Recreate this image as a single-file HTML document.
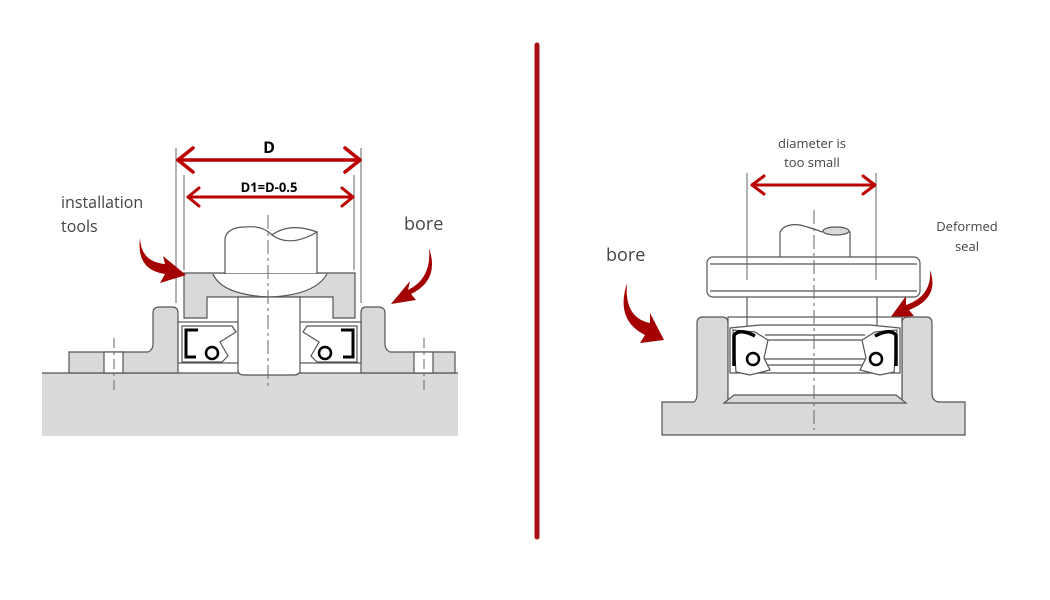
<!DOCTYPE html>
<html><head><meta charset="utf-8"><style>
html,body{margin:0;padding:0;background:#fff;}
svg{display:block;}
text{font-family:"Open Sans","Liberation Sans",sans-serif;}
</style></head><body>
<svg width="1050" height="600" viewBox="0 0 1050 600" xmlns="http://www.w3.org/2000/svg">
<rect width="1050" height="600" fill="#fff"/>
<!-- divider -->
<line x1="537" y1="45" x2="537" y2="537" stroke="#a50f15" stroke-width="5" stroke-linecap="round"/>

<!-- LEFT DRAWING -->
<g stroke="#555" stroke-width="1.2" fill="#d9d9d9">
  <rect x="42" y="373" width="416" height="63" fill="#d9dadb" stroke="none"/>
  <line x1="42" y1="373" x2="458" y2="373"/>
  <!-- left housing + flange -->
  <path d="M69,373 V352 H148 Q153,350 153,344 V313 Q153,307 160,307 H172 Q178,307 178,313 V373 Z"/>
  <path d="M455,373 V352 H390 Q385,350 385,344 V313 Q385,307 378,307 H366 Q361,307 361,313 V373 Z"/>
  <rect x="104" y="352" width="19" height="21" fill="#fff"/>
  <rect x="414" y="352" width="19" height="21" fill="#fff"/>
  <!-- seal cavity -->
  <rect x="178" y="322" width="183" height="41" fill="#fff"/>
  <!-- tool -->
  <path d="M184,273 H355 V318 H333 V297 H207 V318 H184 Z"/>
  <!-- upper shaft -->
  <path d="M225,274 V238 Q228,227 245,227 Q262,225 272,235 Q290,248 317,232 V274 Z" fill="#fff"/>
  <path d="M272,235 Q290,222 317,232" fill="none"/>
  <path d="M213,274 Q222,295 270,297 Q315,295 327,274" fill="#fff"/>
  <!-- lower shaft -->
  <path d="M238,297 H300 V372 Q298,375 294,375 H244 Q238,375 238,370 Z" fill="#fff"/>
  <!-- seals -->
  <path d="M182,326 H232 L236,332 L220,342 L228,356 L222,362 H182 Z" fill="#fff"/>
  <path d="M357,326 H307 L303,332 L319,342 L311,356 L317,362 H357 Z" fill="#fff"/>
</g>
<g fill="none" stroke="#000" stroke-width="3">
  <path d="M198,330 H186 V357 H196"/>
  <path d="M341,330 H353 V357 H343"/>
</g>
<circle cx="212" cy="353" r="6" fill="#fff" stroke="#000" stroke-width="2.5"/>
<circle cx="325" cy="353" r="6" fill="#fff" stroke="#000" stroke-width="2.5"/>
<!-- center lines left -->
<g stroke="#666" stroke-width="1">
  <line x1="268" y1="215" x2="268" y2="386" stroke-dasharray="14,4,3,4"/>
  <line x1="114" y1="338" x2="114" y2="393" stroke-dasharray="10,4,3,4"/>
  <line x1="424" y1="338" x2="424" y2="393" stroke-dasharray="10,4,3,4"/>
  <line x1="176" y1="148" x2="176" y2="303"/>
  <line x1="361" y1="148" x2="361" y2="303"/>
  <line x1="184" y1="175" x2="184" y2="270"/>
  <line x1="354" y1="175" x2="354" y2="270"/>
</g>
<!-- dimension arrows -->
<g stroke="#b00" stroke-width="3.5" fill="none" stroke-linecap="round" stroke-linejoin="round">
  <line x1="178" y1="160" x2="360" y2="160"/>
  <path d="M193,148 L178,160 L193,172"/><path d="M345,148 L360,160 L345,172"/>
  <line x1="188" y1="197" x2="353" y2="197" stroke-width="3"/>
  <path d="M199,188 L188,197 L199,206" stroke-width="3"/><path d="M342,188 L353,197 L342,206" stroke-width="3"/>
</g>
<text x="269" y="153" font-size="16" font-weight="bold" text-anchor="middle" fill="#000">D</text>
<text x="269" y="192" font-size="13" font-weight="bold" text-anchor="middle" fill="#000">D1=D-0.5</text>
<text x="61" y="208" font-size="16" fill="#444">installation</text>
<text x="61" y="232" font-size="16" fill="#444">tools</text>
<text x="404" y="230" font-size="18" fill="#444">bore</text>

<!-- red curved arrows -->
<g fill="#a50000">
  <path d="M140,238 Q141,262 165,264 L163,256 L186,275 L160,283 L165,274 Q136,270 140,238 Z"/>
  <path d="M429,248 Q432,278 408,290 L410,281 L391,304 L416,300 L411,294 Q440,280 429,248 Z"/>
  <path d="M627,283 Q624,318 650,323 L650,313 L664,340 L640,343 L645,335 Q615,320 627,283 Z"/>
  <path d="M930,270 Q932,296 906,305 L906,296 L890,318 L914,316 L909,310 Q940,298 930,270 Z"/>
</g>

<!-- RIGHT DRAWING -->
<g stroke="#555" stroke-width="1.2" fill="#d9d9d9">
  <path d="M662,402 H694 Q697,400 697,394 V323 Q697,317 703,317 H722 Q728,317 728,323 V400 H902 V323 Q902,317 908,317 H926 Q932,317 932,323 V394 Q932,400 938,402 H965 V435 H662 Z"/>
  <rect x="728" y="317" width="174" height="83" fill="#fff"/>
  <path d="M724,403 L734,395 H896 L906,403 Z" fill="#d9d9d9"/>
  <!-- shaft -->
  <path d="M780,257 V232 Q785,223 800,225 Q815,229 822,232 Q840,225 850,232 V257" fill="#fff"/>
  <ellipse cx="836" cy="231" rx="13" ry="4" fill="#d9d9d9"/>
  <rect x="707" y="257" width="213" height="40" rx="6" fill="#fff"/>
  <line x1="710" y1="264" x2="917" y2="264"/>
  <line x1="710" y1="291" x2="917" y2="291"/>
  <line x1="747" y1="297" x2="747" y2="328"/>
  <line x1="877" y1="297" x2="877" y2="328"/>
  <!-- seal body -->
  <path d="M730,328 L760,325 L870,325 L900,328 L900,373 L730,373 Z" fill="#fff"/>
  <line x1="765" y1="335" x2="865" y2="335"/>
  <line x1="765" y1="340" x2="865" y2="340"/>
  <line x1="765" y1="359" x2="865" y2="359"/>
  <line x1="765" y1="365" x2="865" y2="365"/>
  <path d="M733,330 L755,332 L768,340 L764,358 L770,370 L750,375 L736,372 Z" fill="#fff"/>
  <path d="M897,330 L875,332 L862,340 L866,358 L860,370 L880,375 L894,372 Z" fill="#fff"/>
</g>
<g fill="none" stroke="#000" stroke-width="3.5">
  <path d="M755,336 Q740,328 734,335 V366"/>
  <path d="M875,336 Q890,328 896,335 V366"/>
</g>
<circle cx="753" cy="359" r="6" fill="#fff" stroke="#000" stroke-width="2.5"/>
<circle cx="876" cy="359" r="6" fill="#fff" stroke="#000" stroke-width="2.5"/>
<g stroke="#666" stroke-width="1">
  <line x1="814" y1="210" x2="814" y2="430" stroke-dasharray="14,4,3,4"/>
  <line x1="747" y1="173" x2="747" y2="280"/>
  <line x1="876" y1="173" x2="876" y2="280"/>
</g>
<g stroke="#b00" stroke-width="3" fill="none" stroke-linecap="round" stroke-linejoin="round">
  <line x1="752" y1="185" x2="875" y2="185"/>
  <path d="M764,176 L752,185 L764,194"/><path d="M863,176 L875,185 L863,194"/>
</g>
<text x="812" y="148" font-size="13" text-anchor="middle" fill="#444">diameter is</text>
<text x="812" y="167" font-size="13" text-anchor="middle" fill="#444">too small</text>
<text x="967" y="231" font-size="13" text-anchor="middle" fill="#444">Deformed</text>
<text x="967" y="251" font-size="13" text-anchor="middle" fill="#444">seal</text>
<text x="606" y="261" font-size="18" fill="#444">bore</text>
</svg>
</body></html>
